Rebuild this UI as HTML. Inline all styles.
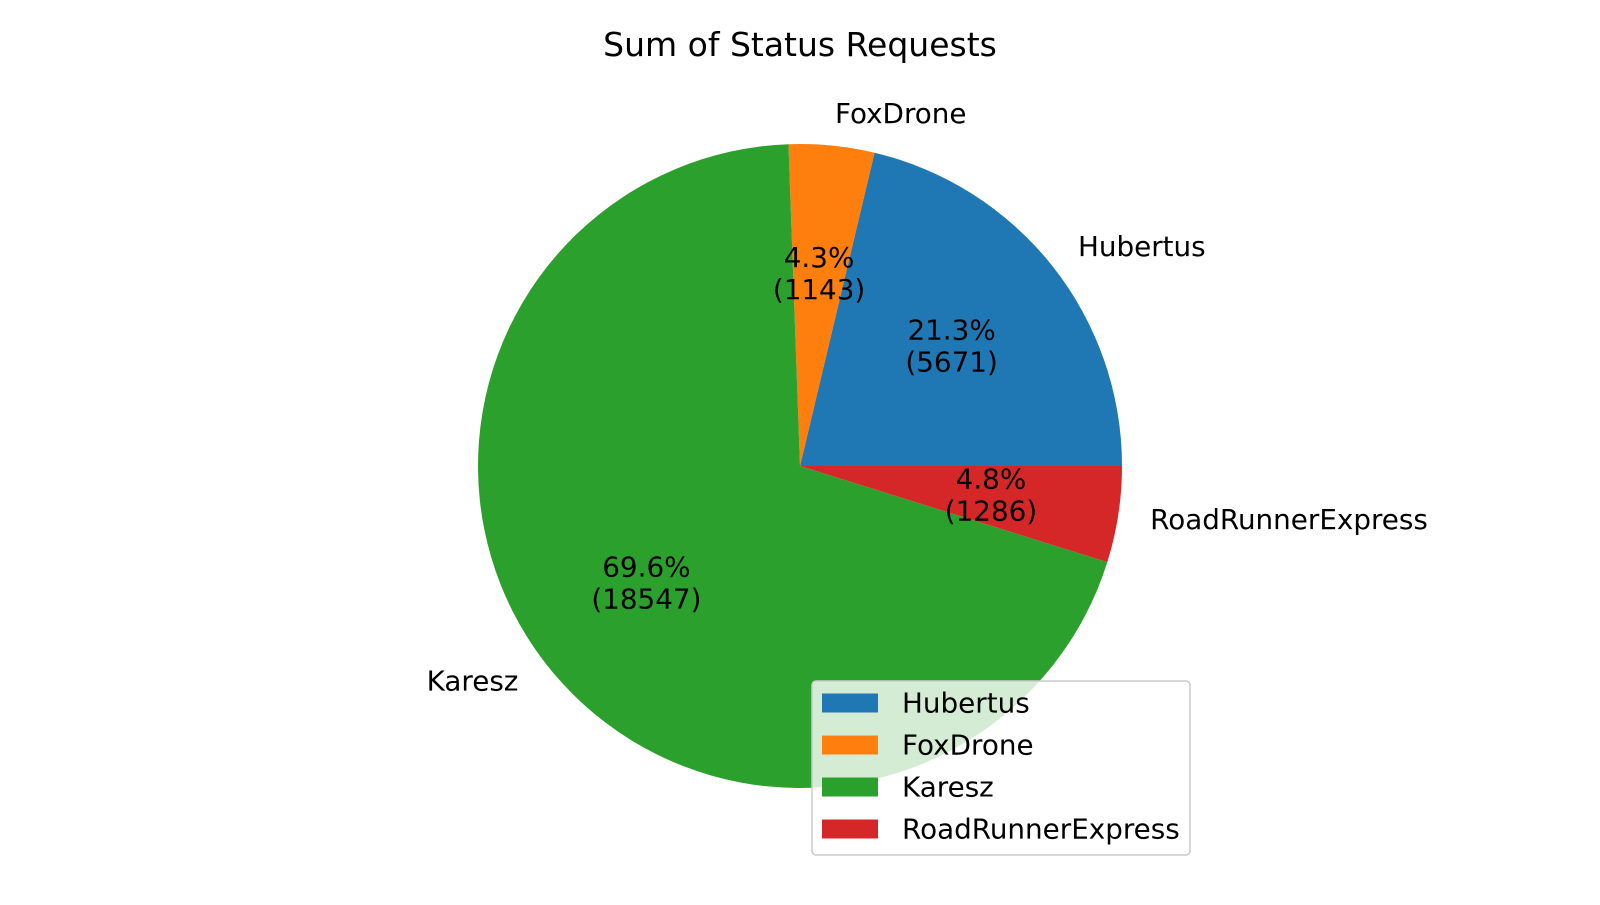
<!DOCTYPE html>
<html><head><meta charset="utf-8"><style>
body{margin:0;background:#fff}
svg text{font-family:"DejaVu Sans","Liberation Sans",sans-serif;fill:#000}
</style></head><body>
<svg id="chart" width="1600" height="900" viewBox="0 0 1600 900" xmlns="http://www.w3.org/2000/svg">
<text x="800" y="56" text-anchor="middle" font-size="33">Sum of Status Requests</text>
<g id="slices"></g>
<g id="labels"></g>
<g id="legend"></g>
</svg>
<script>
const categories = ["Hubertus","FoxDrone","Karesz","RoadRunnerExpress"];
const values = [5671,1143,18547,1286];
const colors = ["#1f77b4","#ff7f0e","#2ca02c","#d62728"];
const NS="http://www.w3.org/2000/svg";
const cx=800, cy=466, R=322, FS=27.8;
const total=values.reduce((a,b)=>a+b,0);
const sl=document.getElementById('slices'), lb=document.getElementById('labels'), lg=document.getElementById('legend');
function mk(t,attrs){const e=document.createElementNS(NS,t);for(const k in attrs)e.setAttribute(k,attrs[k]);return e;}
let a0=0;
values.forEach((v,i)=>{
  const frac=v/total, a1=a0+frac*2*Math.PI;
  const x0=cx+R*Math.cos(a0), y0=cy-R*Math.sin(a0), x1=cx+R*Math.cos(a1), y1=cy-R*Math.sin(a1);
  const p=mk('path',{d:`M${cx},${cy} L${x0},${y0} A${R},${R} 0 ${frac>0.5?1:0} 0 ${x1},${y1} Z`,fill:colors[i]});
  
  
  sl.appendChild(p);
  const am=(a0+a1)/2, c=Math.cos(am), s=Math.sin(am);
  const lt=mk('text',{x:cx+1.1*R*c,y:cy-1.1*R*s,'font-size':FS,'text-anchor':c>=0?'start':'end','dominant-baseline':'central'});
  lt.textContent=categories[i];
  
  
  lb.appendChild(lt);
  const px=cx+0.6*R*c, py=cy-0.6*R*s;
  const pt=mk('text',{x:px,y:py-16,'font-size':FS,'text-anchor':'middle','dominant-baseline':'central'});
  pt.textContent=(frac*100).toFixed(1)+'%';
  
  
  lb.appendChild(pt);
  const vt=mk('text',{x:px,y:py+16,'font-size':FS,'text-anchor':'middle','dominant-baseline':'central'});
  vt.textContent='('+v+')';
  
  
  lb.appendChild(vt);
  a0=a1;
});
const box=mk('rect',{x:812,y:681,width:378,height:174,rx:4,fill:'#fff','fill-opacity':0.8,stroke:'#cccccc','stroke-width':1.5});


lg.appendChild(box);
categories.forEach((c,i)=>{
  const yc=703+i*42;
  const r=mk('rect',{x:822,y:yc-9.5,width:56,height:19,fill:colors[i]});
  
  
  lg.appendChild(r);
  const t=mk('text',{x:902,y:yc,'font-size':FS,'dominant-baseline':'central'});
  t.textContent=c;
  
  
  lg.appendChild(t);
});
</script>
</body></html>
